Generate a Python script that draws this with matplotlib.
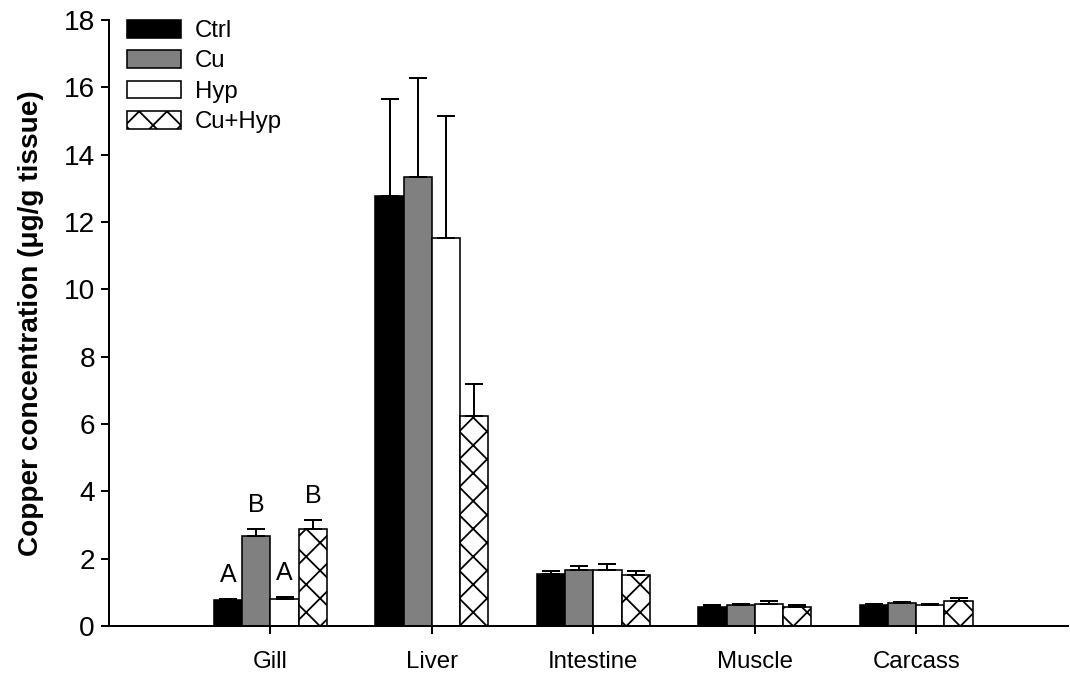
import numpy as np
import matplotlib
matplotlib.use("Agg")
import matplotlib.pyplot as plt

# Copper concentration in tissues (mean and SE), four treatment groups
tissues = ["Gill", "Liver", "Intestine", "Muscle", "Carcass"]
groups = ["Ctrl", "Cu", "Hyp", "Cu+Hyp"]

ctrl_mean = [0.77, 12.78, 1.54, 0.57, 0.61]
ctrl_se = [0.02, 2.87, 0.08, 0.04, 0.03]
cu_mean = [2.67, 13.34, 1.67, 0.62, 0.67]
cu_se = [0.22, 2.94, 0.12, 0.04, 0.03]
hyp_mean = [0.80, 11.52, 1.65, 0.64, 0.62]
hyp_se = [0.05, 3.64, 0.19, 0.09, 0.02]
cuhyp_mean = [2.89, 6.25, 1.52, 0.57, 0.73]
cuhyp_se = [0.26, 0.93, 0.11, 0.04, 0.10]

# significance letters for the gill group only
gill_letters = ["A", "B", "A", "B"]

yticks = [0, 2, 4, 6, 8, 10, 12, 14, 16, 18]

# figure rendered at a dpi that sets the hatch tile size; sizes given in pixels
DPI = 167
W, H = 1070, 677


def px(v):
    return v * 72.0 / DPI


plt.rcParams["font.family"] = ["Liberation Sans", "DejaVu Sans"]
plt.rcParams["hatch.linewidth"] = px(1.8)

fig = plt.figure(figsize=(W / DPI, H / DPI), dpi=DPI)
left, right, bottom, top = 109, 1068, 626, 20
ax = fig.add_axes([left / W, 1 - bottom / H, (right - left) / W, (bottom - top) / H])

means = [ctrl_mean, cu_mean, hyp_mean, cuhyp_mean]
ses = [ctrl_se, cu_se, hyp_se, cuhyp_se]
faces = ["black", "#808080", "white", "white"]
hatches = [None, None, None, "xx"]

x = np.arange(1, len(tissues) + 1)
bw = 0.175
offsets = (np.arange(len(groups)) - 1.5) * bw

for i, g in enumerate(groups):
    xi = x + offsets[i]
    ax.bar(xi, means[i], width=bw, color=faces[i], edgecolor="black",
           linewidth=px(1.6), hatch=hatches[i], label=g, zorder=2)
    ax.errorbar(xi, means[i], yerr=[np.zeros(len(tissues)), ses[i]], fmt="none",
                ecolor="black", elinewidth=px(2), capsize=px(9), capthick=px(2),
                zorder=3)

for i, letter in enumerate(gill_letters):
    ax.annotate(letter, (x[0] + offsets[i], means[i][0] + ses[i][0]),
                xytext=(0, px(12)), textcoords="offset points",
                ha="center", va="bottom", fontsize=px(25))

ax.set_xlim(0, 5.94)
ax.set_ylim(0, 18)
ax.set_xticks(x)
ax.set_xticklabels(tissues, fontsize=px(24))
ax.set_yticks(yticks)
ax.set_yticklabels([str(t) for t in yticks], fontsize=px(28))
ax.tick_params(axis="both", direction="out", length=px(8), width=px(2), pad=px(6))
ax.tick_params(axis="x", pad=px(17))

for side in ["top", "right"]:
    ax.spines[side].set_visible(False)
for side in ["left", "bottom"]:
    ax.spines[side].set_linewidth(px(2))

ax.set_ylabel("Copper concentration (\u03bcg/g tissue)", fontsize=px(28),
              fontweight="bold", labelpad=px(20))

leg = ax.legend(loc="upper left", bbox_to_anchor=(18 / (right - left), 1.0),
                frameon=False, fontsize=px(24), handlelength=2.25,
                handleheight=0.75, handletextpad=0.58, labelspacing=0.34,
                borderaxespad=0, borderpad=0)

fig.savefig("out.png", dpi=DPI)
